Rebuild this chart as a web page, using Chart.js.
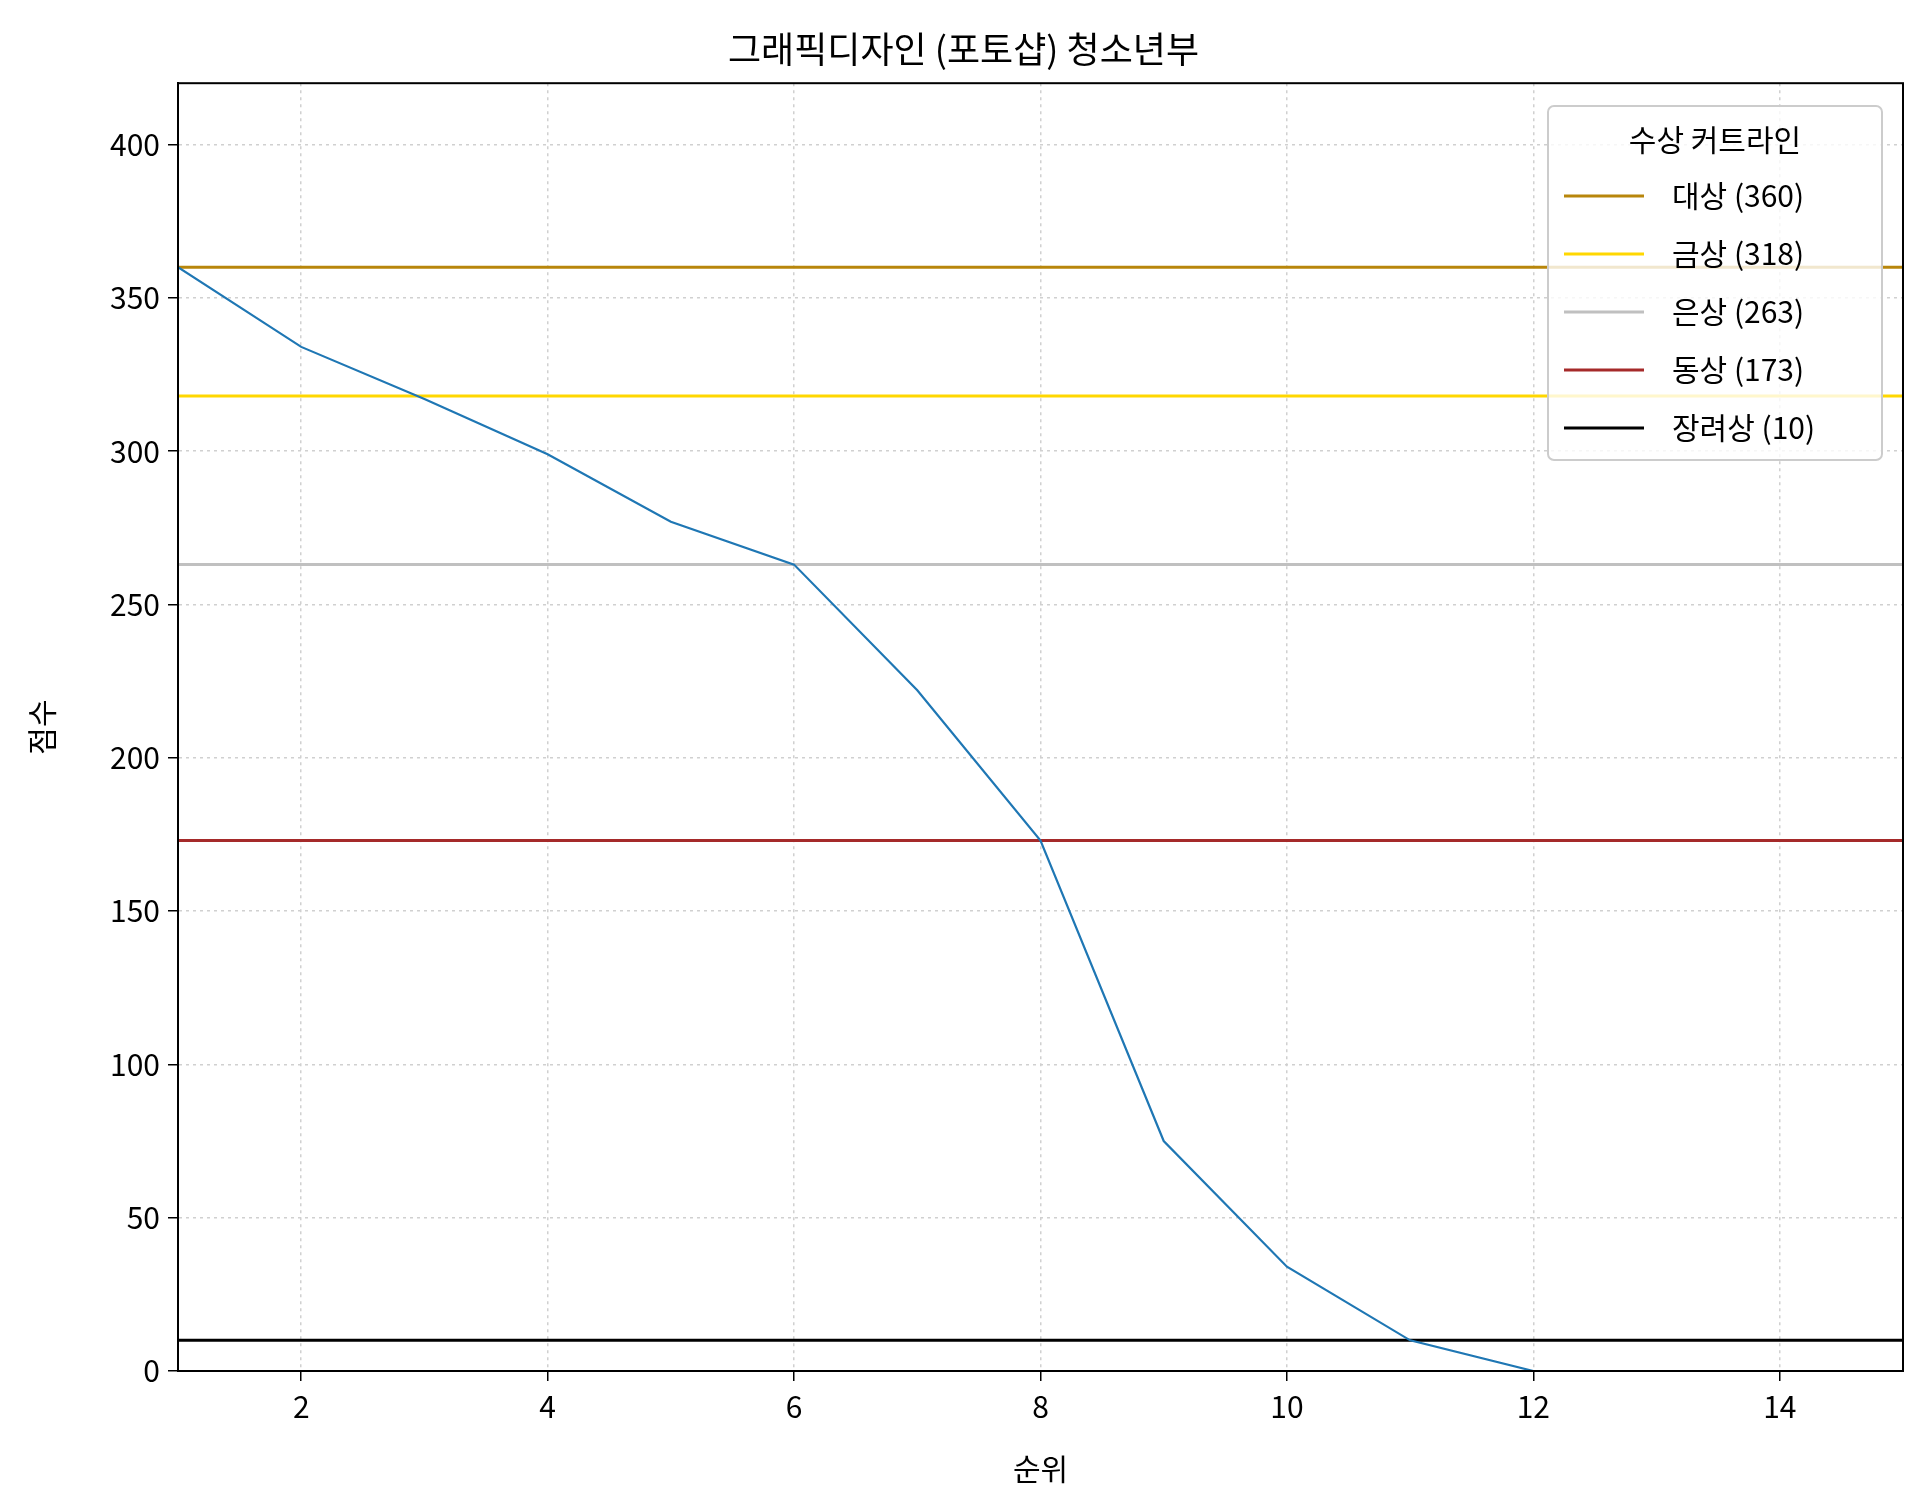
<!DOCTYPE html>
<html><head><meta charset="utf-8">
<script src="https://cdn.jsdelivr.net/npm/chart.js@4"></script>
<style>html,body{margin:0;background:#fff}</style></head>
<body><canvas id="c" width="1920" height="1509"></canvas>
<script>
const ranks = [1,2,3,4,5,6,7,8,9,10,11,12,13,14];
const scores = [360,334,317,299,277,263,222,173,75,34,10,0,0,0];
const cutLabels = ['대상 (360)','금상 (318)','은상 (263)','동상 (173)','장려상 (10)'];
const cutValues = [360,318,263,173,10];
const cutColors = ['#b8860b','#ffd700','#c0c0c0','#a52a2a','#000000'];
const xTicks = [2,4,6,8,10,12,14];
const F = '"Noto Sans CJK KR","Noto Sans",sans-serif';
Chart.defaults.font.family = F;
Chart.defaults.color = '#000';

const datasets = [{label:'score', data: ranks.map((r,i)=>({x:r,y:scores[i]})), borderColor:'#1f77b4', borderWidth:2.2, pointRadius:0, order:0}];
cutValues.forEach((v,i)=>datasets.push({label:cutLabels[i], data:[{x:1,y:v},{x:15,y:v}], borderColor:cutColors[i], borderWidth:3, pointRadius:0, order:1}));

const legendPlugin = {id:'lg', afterDraw(ch){
  const c=ch.ctx; const a=ch.chartArea;
  c.save(); c.strokeStyle='#000'; c.lineWidth=2; c.strokeRect(a.left,a.top,a.right-a.left,a.bottom-a.top);
  const x0=1548,y0=106,w=334,h=354;
  c.fillStyle='rgba(255,255,255,0.8)'; c.strokeStyle='#ccc'; c.lineWidth=2;
  c.beginPath(); c.roundRect(x0,y0,w,h,6); c.fill(); c.stroke();
  c.fillStyle='#000'; c.font='30px '+F; c.textAlign='center'; c.textBaseline='middle';
  c.fillText('수상 커트라인', x0+w/2, y0+34);
  c.textAlign='left';
  cutLabels.forEach((l,i)=>{const y=y0+90+i*58;
    c.strokeStyle=cutColors[i]; c.lineWidth=3; c.beginPath(); c.moveTo(x0+16,y); c.lineTo(x0+96,y); c.stroke();
    c.fillStyle='#000'; c.fillText(l, x0+124, y);});
  c.restore();
}};

new Chart(document.getElementById('c'), {
 type:'line', data:{datasets},
 plugins:[legendPlugin],
 options:{responsive:false, devicePixelRatio:1, animation:false,
  layout:{padding:{top:28,right:17,left:24,bottom:22}},
  plugins:{legend:{display:false}, tooltip:{enabled:false},
   title:{display:true,text:'그래픽디자인 (포토샵) 청소년부',font:{size:36,weight:'normal'},padding:{top:0,bottom:12},color:'#000'}},
  scales:{
   x:{type:'linear',min:1,max:15,
     afterBuildTicks(s){s.ticks=xTicks.map(v=>({value:v}));},
     afterFit(s){s.height=116;},
     ticks:{font:{size:30},padding:8,color:'#000'},
     grid:{color:'#d0d0d0',lineWidth:1.5,tickColor:'#000',tickLength:10},
     border:{color:'#000',width:2,dash:[3,4]},
     title:{display:true,text:'순위',font:{size:30},padding:{top:0,bottom:0}}},
   y:{min:0,max:420,
     afterBuildTicks(s){s.ticks=[0,50,100,150,200,250,300,350,400].map(v=>({value:v}));},
     afterFit(s){s.width=154;},
     ticks:{font:{size:30},padding:8,color:'#000'},
     grid:{color:'#d0d0d0',lineWidth:1.5,tickColor:'#000',tickLength:10},
     border:{color:'#000',width:2,dash:[3,4]},
     title:{display:true,text:'점수',font:{size:30},padding:{top:0,bottom:0}}}
  }}
});
</script></body></html>
